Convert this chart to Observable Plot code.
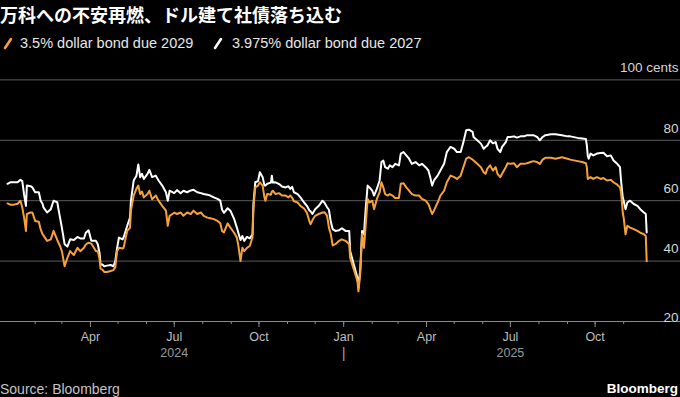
<!DOCTYPE html>
<html><head><meta charset="utf-8">
<script src="https://cdn.jsdelivr.net/npm/d3@7"></script>
<script src="https://cdn.jsdelivr.net/npm/@observablehq/plot@0.6"></script>
<style>
html,body{margin:0;padding:0;background:#000;}
body{width:680px;height:397px;overflow:hidden;position:relative;font-family:"Liberation Sans",Arial,sans-serif;}
#title{position:absolute;left:0;top:4px;line-height:20px;font-family:"Noto Sans CJK JP",sans-serif;font-weight:bold;font-size:18px;color:#fff;white-space:nowrap;}
.lg{position:absolute;top:34px;line-height:18px;font-size:14.5px;color:#e6e6e6;white-space:nowrap;}
.ic{position:absolute;top:37px;}
#chart{position:absolute;left:0;top:56px;}
#src{position:absolute;left:0;top:381px;line-height:16px;font-size:14px;color:#c4c4c4;}
#brand{position:absolute;right:2px;top:381px;line-height:16px;font-size:13.5px;font-weight:bold;color:#fff;}
</style></head>
<body>
<div id="title">万科への不安再燃、ドル建て社債落ち込む</div>
<svg class="ic" style="left:3px" width="10" height="13"><line x1="2" y1="11" x2="8" y2="2" stroke="#f7a13a" stroke-width="2.6" stroke-linecap="round"/></svg>
<div class="lg" style="left:20px" id="lg1"></div>
<svg class="ic" style="left:213px" width="10" height="13"><line x1="2" y1="11" x2="8" y2="2" stroke="#ffffff" stroke-width="2.6" stroke-linecap="round"/></svg>
<div class="lg" style="left:232px" id="lg2"></div>
<div id="chart"></div>
<div id="src">Source: Bloomberg</div>
<div id="brand">Bloomberg</div>
<script>
const seriesNames = ["3.5% dollar bond due 2029", "3.975% dollar bond due 2027"];
const seriesColors = ["#f7a13a", "#ffffff"];
const dates = [
"2024-01-02","2024-01-05","2024-01-09","2024-01-13","2024-01-16","2024-01-18","2024-01-20","2024-01-22","2024-01-23","2024-01-27",
"2024-01-29","2024-02-01","2024-02-05","2024-02-07","2024-02-09","2024-02-10","2024-02-14","2024-02-18","2024-02-21","2024-02-25",
"2024-02-28","2024-03-01","2024-03-04","2024-03-07","2024-03-10","2024-03-14","2024-03-18","2024-03-21","2024-03-25","2024-03-27",
"2024-03-30","2024-04-02","2024-04-07","2024-04-09","2024-04-11","2024-04-12","2024-04-14","2024-04-16","2024-04-19","2024-04-23",
"2024-04-26","2024-04-28","2024-04-30","2024-05-02","2024-05-06","2024-05-07","2024-05-11","2024-05-14","2024-05-15","2024-05-18",
"2024-05-21","2024-05-23","2024-05-25","2024-05-27","2024-05-29","2024-06-02","2024-06-04","2024-06-07","2024-06-11","2024-06-14",
"2024-06-18","2024-06-22","2024-06-24","2024-06-26","2024-07-01","2024-07-04","2024-07-08","2024-07-11","2024-07-15","2024-07-19",
"2024-07-22","2024-07-26","2024-07-30","2024-08-02","2024-08-06","2024-08-09","2024-08-13","2024-08-17","2024-08-20","2024-08-22",
"2024-08-24","2024-08-28","2024-08-31","2024-09-04","2024-09-07","2024-09-09","2024-09-11","2024-09-13","2024-09-15","2024-09-18",
"2024-09-21","2024-09-24","2024-09-25","2024-09-27","2024-09-30","2024-10-02","2024-10-05","2024-10-07","2024-10-08","2024-10-10",
"2024-10-14","2024-10-15","2024-10-16","2024-10-19","2024-10-23","2024-10-26","2024-10-30","2024-11-02","2024-11-04","2024-11-06",
"2024-11-08","2024-11-12","2024-11-15","2024-11-19","2024-11-22","2024-11-25","2024-11-26","2024-11-28","2024-12-01","2024-12-05",
"2024-12-09","2024-12-11","2024-12-14","2024-12-16","2024-12-18","2024-12-20","2024-12-23","2024-12-27","2024-12-30","2025-01-03",
"2025-01-07","2025-01-08","2025-01-12","2025-01-16","2025-01-17","2025-01-19","2025-01-21","2025-01-23","2025-01-25","2025-01-27",
"2025-01-29","2025-02-01","2025-02-03","2025-02-06","2025-02-09","2025-02-11","2025-02-13","2025-02-15","2025-02-18","2025-02-20",
"2025-02-23","2025-02-26","2025-03-02","2025-03-04","2025-03-07","2025-03-10","2025-03-13","2025-03-16","2025-03-20","2025-03-24",
"2025-03-27","2025-03-31","2025-04-03","2025-04-05","2025-04-07","2025-04-09","2025-04-13","2025-04-16","2025-04-20","2025-04-23",
"2025-04-27","2025-05-01","2025-05-04","2025-05-08","2025-05-11","2025-05-14","2025-05-17","2025-05-21","2025-05-22","2025-05-26",
"2025-05-30","2025-06-02","2025-06-04","2025-06-06","2025-06-09","2025-06-12","2025-06-15","2025-06-17","2025-06-20","2025-06-22",
"2025-06-26","2025-06-28","2025-07-01","2025-07-05","2025-07-08","2025-07-12","2025-07-16","2025-07-19","2025-07-23","2025-07-26",
"2025-07-30","2025-08-02","2025-08-05","2025-08-08","2025-08-14","2025-08-19","2025-08-26","2025-09-01","2025-09-04","2025-09-12",
"2025-09-17","2025-09-21","2025-09-22","2025-09-23","2025-09-24","2025-09-26","2025-09-29","2025-10-03","2025-10-07","2025-10-10",
"2025-10-14","2025-10-18","2025-10-21","2025-10-25","2025-10-28","2025-10-29","2025-10-30","2025-10-31","2025-11-01","2025-11-03",
"2025-11-05","2025-11-08","2025-11-12","2025-11-16","2025-11-19","2025-11-23","2025-11-25","2025-11-26"
];
const bond2029 = [
59.1,58.7,58.7,59.0,60.0,57.8,54.4,50.0,55.6,56.1,
56.1,53.3,53.0,50.5,48.9,48.5,46.7,47.2,50.0,47.0,
45.0,43.3,38.3,41.1,43.3,42.0,44.4,43.3,44.4,45.5,
46.1,45.8,43.3,43.3,40.5,37.5,37.2,36.4,36.4,36.7,
37.0,38.0,43.3,44.4,44.2,44.4,50.0,51.1,56.7,61.7,
64.0,65.0,62.2,63.0,61.1,62.2,63.3,60.5,61.7,60.0,
58.3,56.7,51.7,55.0,56.0,55.6,56.1,55.0,56.1,55.6,
56.7,55.6,56.1,55.0,54.4,54.2,53.9,53.3,52.5,50.0,
49.5,52.5,51.1,49.4,47.8,44.4,40.0,44.4,43.3,44.4,
45.0,47.8,57.5,64.4,65.0,66.1,65.0,61.0,60.0,62.2,
62.0,63.0,63.3,62.2,62.5,61.7,61.7,61.1,61.7,61.0,
59.8,59.4,58.3,57.4,56.0,53.0,52.2,53.5,55.0,55.6,
56.1,56.2,55.0,51.0,49.0,45.2,45.6,46.7,47.2,46.7,
45.6,41.1,37.2,33.3,30.0,36.0,49.0,44.4,52.2,60.6,
59.4,60.0,57.2,60.6,62.8,66.1,64.4,62.2,61.7,62.2,
61.7,60.9,60.9,65.6,65.8,64.4,63.3,62.2,61.7,61.7,
60.6,60.0,58.9,57.2,55.6,56.7,59.4,61.7,63.3,66.1,
68.3,67.8,67.2,68.3,71.1,73.9,74.4,73.6,73.3,72.2,
71.1,69.4,68.9,70.6,71.7,70.0,71.1,68.9,67.8,68.9,
71.1,72.4,72.2,72.4,71.1,72.2,72.2,72.4,72.8,73.1,
72.8,72.2,73.6,74.2,74.2,73.9,74.4,73.9,73.6,73.1,
72.8,72.4,71.1,67.2,67.5,67.8,67.2,67.8,67.2,67.5,
66.7,66.9,66.1,65.3,64.4,63.0,60.0,56.0,54.4,48.9,
51.7,51.1,50.6,50.0,49.4,48.9,48.3,40.0
];
const bond2027 = [
65.6,66.1,66.1,66.1,66.9,66.5,62.0,58.3,65.0,64.8,
64.4,62.8,62.8,60.0,59.0,57.8,56.1,57.2,60.0,59.5,
54.4,51.1,45.6,44.8,47.2,47.0,48.0,47.5,47.5,49.4,
50.2,46.7,46.7,45.6,42.5,38.9,38.9,38.3,38.5,38.7,
38.3,40.0,44.4,47.8,47.2,47.8,51.7,54.4,60.0,66.7,
68.3,72.0,67.8,68.9,67.2,68.9,70.2,67.8,68.3,66.7,
65.0,62.8,60.0,63.3,62.5,63.5,62.5,63.3,62.8,63.4,
63.6,62.8,62.5,62.2,62.0,61.7,61.1,60.6,60.0,57.0,
56.0,57.5,56.7,54.0,51.1,49.0,47.0,48.3,46.7,48.0,
47.5,48.9,58.9,66.1,66.5,69.4,67.8,65.0,65.0,65.6,
66.0,68.3,66.0,66.1,65.5,64.7,64.4,64.8,63.9,64.6,
62.8,62.2,61.1,59.4,58.3,56.7,56.5,55.6,57.2,58.3,
60.0,59.4,57.8,57.0,53.0,50.6,50.0,50.2,50.9,50.0,
50.0,43.3,38.9,34.4,31.1,37.2,50.0,48.9,57.8,65.0,
64.4,63.3,61.7,63.9,66.7,72.8,73.3,71.1,70.6,71.7,
71.1,72.2,71.7,75.6,76.1,75.0,73.9,72.2,72.8,71.7,
72.2,71.1,70.0,67.8,65.0,66.7,68.3,70.0,72.2,76.1,
77.8,77.2,76.1,76.1,79.4,83.3,83.5,82.8,81.1,80.0,
78.9,77.2,77.8,78.3,80.0,79.0,79.4,77.2,76.1,77.8,
79.4,81.1,81.1,81.3,80.9,81.3,81.3,81.7,81.7,81.7,
81.1,80.0,81.1,81.7,82.0,82.0,81.7,81.3,81.3,80.8,
80.6,80.4,78.3,75.0,73.9,75.6,75.0,75.6,75.8,75.9,
74.7,75.0,73.3,72.2,71.1,67.2,64.0,61.1,60.0,57.2,
59.4,60.0,58.9,58.3,57.2,56.1,55.6,49.5
];
const yTicks = [40, 60, 80, 100];
const yBottomTick = 20;
const yUnit = "cents";
const monthTicks = d3.utcMonths(new Date("2024-02-01"), new Date("2025-11-02"));
const quarterTicks = monthTicks.filter(d => d.getUTCMonth() % 3 === 0);
const yearLabels = [{date: "2024-07-01", label: "2024"}, {date: "2025-07-01", label: "2025"}];
const yearSeparators = ["2025-01-01"];

document.getElementById("lg1").textContent = seriesNames[0];
document.getElementById("lg2").textContent = seriesNames[1];

const rows = dates.map((d, i) => ({date: new Date(d), b29: bond2029[i], b27: bond2027[i]}));

const tickColor = "#8a8a8a";
const chart = Plot.plot({
  width: 680, height: 316,
  marginTop: 23.4, marginBottom: 51, marginLeft: 0, marginRight: 0,
  style: {background: "transparent", color: "#bdbdbd", fontFamily: "'Liberation Sans', Arial, sans-serif", fontSize: "12.5px", overflow: "visible"},
  x: {type: "utc", domain: [new Date("2023-12-25T09:00Z"), new Date("2026-01-01T17:00Z")], label: null},
  y: {domain: [20, 100], axis: null, label: null},
  marks: [
    Plot.gridY(yTicks, {stroke: "#5c5c5c", strokeOpacity: 1, strokeWidth: 1}),
    Plot.ruleY([20], {stroke: tickColor, strokeWidth: 1}),
    Plot.axisX({ticks: monthTicks, tickSize: 3, stroke: tickColor, fill: "none", label: null}),
    Plot.axisX({ticks: quarterTicks, tickSize: 6, tickPadding: 5, stroke: tickColor, tickFormat: d3.utcFormat("%b"), fill: "#bdbdbd", fontSize: 12.5, label: null}),
    Plot.text(yearLabels, {x: d => new Date(d.date), text: "label", frameAnchor: "bottom", dy: 35, fill: "#9a9a9a", fontSize: 12.5}),
    Plot.text(yearSeparators, {x: d => new Date(d), text: () => "|", frameAnchor: "bottom", dy: 36, fill: "#9a9a9a", fontSize: 15}),
    Plot.text(yTicks, {y: d => d, text: d => d === 100 ? `${d} ${yUnit}` : String(d), frameAnchor: "right", textAnchor: "end", dx: -2, dy: -12, fill: "#d6d6d6", fontSize: 13.5}),
    Plot.text([yBottomTick], {y: d => d, text: d => String(d), frameAnchor: "right", textAnchor: "end", dx: -2, dy: -4, fill: "#d6d6d6", fontSize: 13.5}),
    Plot.lineY(rows, {x: "date", y: "b27", stroke: seriesColors[1], strokeWidth: 2, curve: "linear"}),
    Plot.lineY(rows, {x: "date", y: "b29", stroke: seriesColors[0], strokeWidth: 2, curve: "linear"})
  ]
});
document.getElementById("chart").appendChild(chart);
</script>
</body></html>
